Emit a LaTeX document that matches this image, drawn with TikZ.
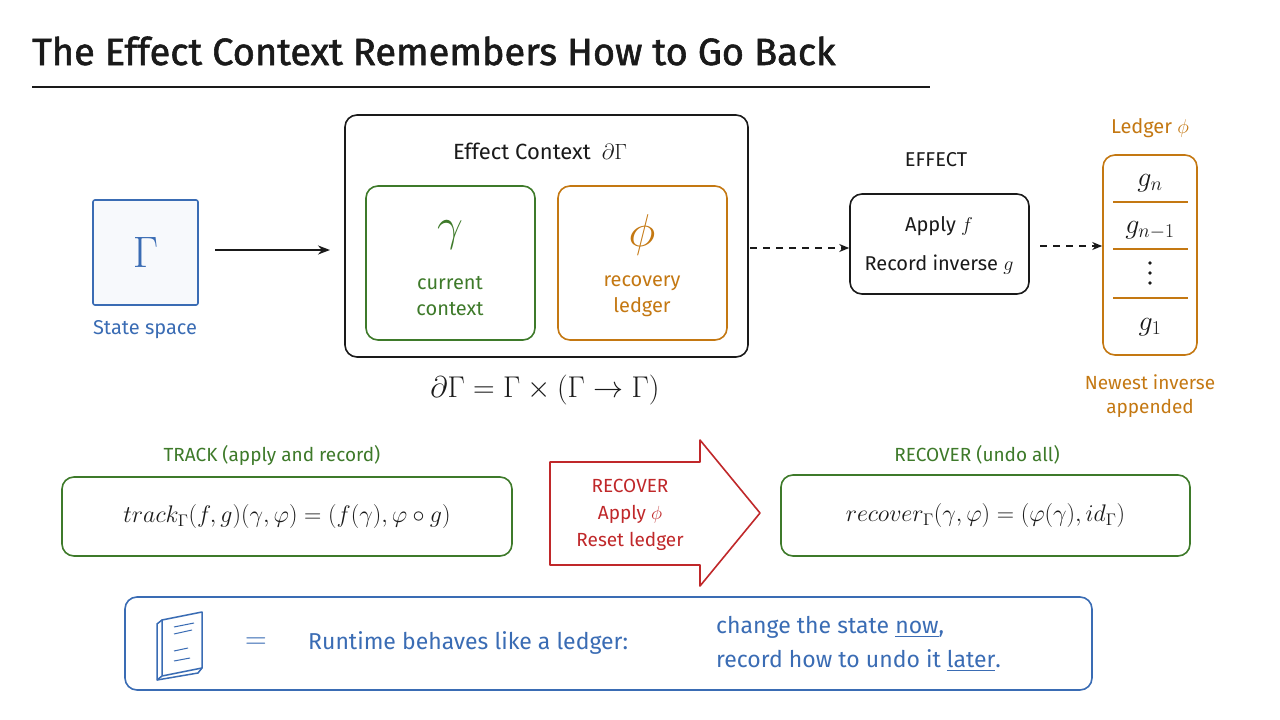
\RequirePackage{fix-cm}
\documentclass[tikz,border=0pt]{standalone}
\usepackage{amsmath}
\usepackage{fontspec}
\setmainfont{Fira Sans}
\usetikzlibrary{arrows.meta}
\definecolor{cb}{HTML}{3A6CB4}
\definecolor{cg}{HTML}{3E7A2A}
\definecolor{co}{HTML}{C47812}
\definecolor{cr}{HTML}{C0282A}
\definecolor{ck}{HTML}{1A1A1A}
\newcommand{\fs}[1]{\fontsize{#1}{#1}\selectfont}
\tikzset{
  box/.style={draw, line width=1.6pt, rounded corners=12pt},
  lbl/.style={inner sep=0pt, align=center},
  arr/.style={-{Stealth[length=12pt,width=9pt]}, line width=2pt, ck},
  darr/.style={-{Stealth[length=10pt,width=8pt]}, line width=1.8pt, ck, dash pattern=on 7pt off 6pt},
}
\begin{document}
\begin{tikzpicture}[x=1pt,y=-1pt]
\useasboundingbox[fill=white] (0,0) rectangle (1280,720);
% title
\node[lbl, anchor=base west, text=ck, font=\fs{38}\addfontfeatures{FakeBold=1.5}] (title) at (32,65) {The Effect Context Remembers How to Go Back};
\draw[line width=2pt, ck] (32,87) -- (930,87);
% Gamma
\node[box, draw=cb, rounded corners=2pt, minimum width=105pt, minimum height=105pt, fill=cb!4, font=\fs{44}] (gam) at (145.5,252.5) {\color{cb}$\Gamma$};
\node[lbl, text=cb, font=\fs{20}] (ss) at (145,330) {State space};
\node[box, draw=ck, minimum width=403pt, minimum height=242pt] (ctx) at (546.5,236) {};
\coordinate (a0) at (215,250);
\coordinate (a1) at (330,250);
\draw[arr] (a0) -- (a1);
\node[lbl, text=ck, font=\fs{22}] (ctxt) at (540,151) {Effect Context\enspace $\partial\Gamma$};
\node[box, draw=cg, minimum width=169pt, minimum height=154pt] (gb) at (450.5,263) {};
\node[lbl, text=cg, font=\fs{46}] at (450,235) {$\gamma$};
\node[lbl, text=cg, font=\fs{20}] at (450,296) {current\\[6pt]context};
\node[box, draw=co, minimum width=169pt, minimum height=154pt] (ob) at (642.5,263) {};
\node[lbl, text=co, font=\fs{46}] at (642,235) {$\phi$};
\node[lbl, text=co, font=\fs{20}] at (642,296) {recovery\\[6pt]ledger};
\node[lbl, text=ck, font=\fs{30}] (eq) at (545,390) {$\partial\Gamma = \Gamma \times (\Gamma \to \Gamma)$};
% effect
\node[lbl, text=ck, font=\fs{20}] (efl) at (936,160) {EFFECT};
\node[box, draw=ck, minimum width=179pt, minimum height=100pt] (eff) at (939.5,244) {};
\node[lbl, text=ck, font=\fs{20}] at (939,226) {Apply $f$};
\node[lbl, text=ck, font=\fs{20}] at (939,265) {Record inverse $g$};
\coordinate (d0) at (750,248);
\draw[darr] (d0) -- (d0 -| eff.west);
% ledger
\node[lbl, text=co, font=\fs{20}] (ledl) at (1150,128) {Ledger $\phi$};
\node[box, draw=co, minimum width=94pt, minimum height=200pt] (led) at (1150,255) {};
\foreach \y in {202,249,298} \draw[co, line width=1.5pt] (1113,\y) -- (1188,\y);
\node[lbl, text=ck, font=\fs{28}] at (1150,183) {$g_n$};
\node[lbl, text=ck, font=\fs{28}] at (1150,230) {$g_{n-1}$};
\foreach \y in {263,273,283} \fill[ck] (1150,\y) circle (1.8pt);
\node[lbl, text=ck, font=\fs{28}] at (1150,327) {$g_1$};
\coordinate (d1) at (1040,246);
\draw[darr] (d1) -- (d1 -| led.west);
\node[lbl, text=co, font=\fs{19}] at (1150,396) {Newest inverse\\[5pt]appended};
% track
\node[lbl, text=cg, font=\fs{19}] at (272,455) {TRACK (apply and record)};
\node[box, draw=cg, minimum width=450pt, minimum height=79pt, font=\fs{24}] (tr) at (287,516.5) {\color{ck}$track_\Gamma(f,g)(\gamma,\varphi) = (f(\gamma), \varphi\circ g)$};
% red arrow
\draw[cr, line width=1.6pt, fill=white, line join=round] (550,462) -- (700,462) -- (700,440) -- (760,513) -- (700,586) -- (700,565) -- (550,565) -- cycle;
\node[lbl, text=cr, font=\fs{19}] at (630,515) {RECOVER\\[8pt]Apply $\phi$\\[8pt]Reset ledger};
% recover
\node[lbl, text=cg, font=\fs{19}] at (977,455) {RECOVER (undo all)};
\node[box, draw=cg, minimum width=409pt, minimum height=81pt, font=\fs{24}] (rc) at (985.5,515.5) {\color{ck}$recover_\Gamma(\gamma,\varphi) = (\varphi(\gamma), id_\Gamma)$};
% bottom
\node[box, draw=cb, minimum width=967pt, minimum height=93pt] (bt) at (608.5,643.5) {};
\begin{scope}[cb, line width=1.5pt, line join=round]
\draw[fill=white] (162,620) -- (202,612) -- (202,668) -- (162,676) -- cycle;
\draw (162,620) -- (157,624) -- (157,680) -- (162,676);
\draw (157,680) -- (198,673) -- (202,668);
\draw[line width=1pt] (174,627) -- (194,623) (174,634) -- (192,630) (174,651) -- (188,648) (174,661) -- (190,658);
\end{scope}
\node[lbl, text=cb, font=\fs{30}] at (256,643) {$=$};
\node[lbl, anchor=west, text=cb, font=\fs{23}] at (308,643) {Runtime behaves like a ledger:};
\node[lbl, anchor=base west, text=cb, font=\fs{23}] (l1) at (716,633) {change the state \underline{now},};
\node[lbl, anchor=base west, text=cb, font=\fs{23}] (l2) at (716,667) {record how to undo it \underline{later}.};
\end{tikzpicture}
\end{document}
